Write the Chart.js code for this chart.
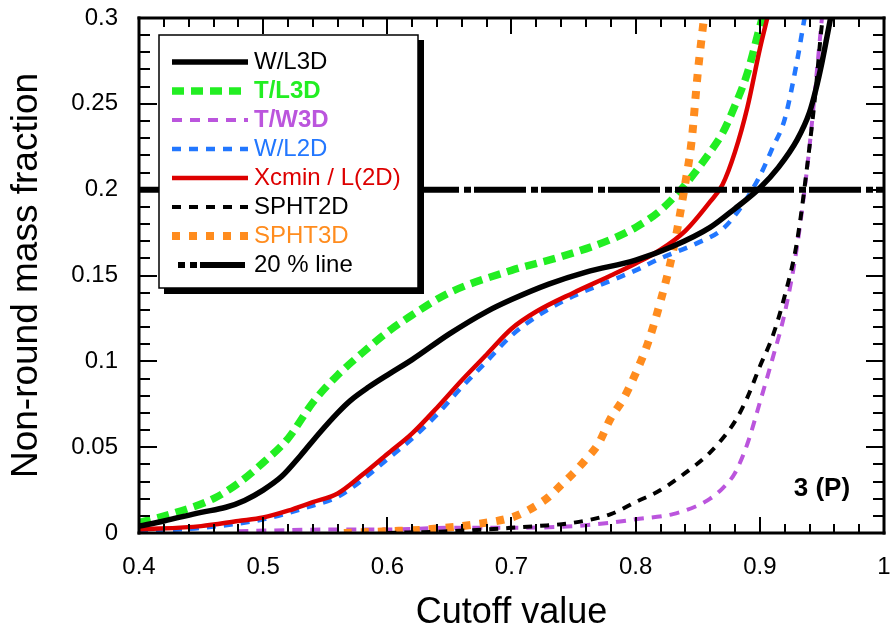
<!DOCTYPE html>
<html lang="en">
<head>
  <meta charset="UTF-8" />
  <title>Non-round mass fraction vs cutoff value</title>
  <style>
    body {
      margin: 0;
      background-color: #fff;
    }
    #wrap {
      width: 891px;
      height: 635px;
    }
  </style>
</head>
<body>
  <div id="wrap"><canvas id="cutoffChart" width="891" height="635"></canvas></div>

  <script src="https://cdn.jsdelivr.net/npm/chart.js"></script>
  <script>
    // cutoff value (x) and non-round mass fraction (y) for every curve
    const wl3dX = [0.4, 0.42, 0.45, 0.47, 0.485, 0.5, 0.515, 0.53, 0.545, 0.56, 0.57, 0.585, 0.6, 0.62, 0.65, 0.68, 0.7, 0.73, 0.76, 0.8, 0.83, 0.86, 0.88, 0.9, 0.915, 0.93, 0.94, 0.945, 0.95, 0.957];
    const wl3dY = [0.004, 0.007, 0.012, 0.015, 0.019, 0.025, 0.033, 0.045, 0.058, 0.070, 0.077, 0.085, 0.092, 0.101, 0.116, 0.129, 0.136, 0.145, 0.152, 0.159, 0.167, 0.178, 0.189, 0.201, 0.213, 0.229, 0.245, 0.258, 0.274, 0.3];

    const tl3dX = [0.4, 0.43, 0.46, 0.48, 0.5, 0.52, 0.54, 0.56, 0.58, 0.6, 0.62, 0.65, 0.7, 0.74, 0.78, 0.8, 0.82, 0.84, 0.86, 0.87, 0.88, 0.89, 0.9, 0.902];
    const tl3dY = [0.006, 0.012, 0.02, 0.029, 0.041, 0.055, 0.076, 0.092, 0.105, 0.117, 0.127, 0.140, 0.153, 0.161, 0.171, 0.178, 0.188, 0.203, 0.222, 0.233, 0.249, 0.268, 0.295, 0.3];

    const tw3dX = [0.48, 0.55, 0.6, 0.65, 0.7, 0.75, 0.78, 0.8, 0.83, 0.85, 0.86, 0.87, 0.88, 0.89, 0.9, 0.91, 0.92, 0.93, 0.94, 0.945, 0.95];
    const tw3dY = [0.001, 0.002, 0.002, 0.003, 0.003, 0.004, 0.006, 0.008, 0.011, 0.016, 0.02, 0.026, 0.035, 0.052, 0.076, 0.101, 0.128, 0.167, 0.225, 0.262, 0.3];

    const wl2dX = [0.4, 0.45, 0.5, 0.54, 0.56, 0.58, 0.6, 0.62, 0.64, 0.66, 0.68, 0.7, 0.72, 0.75, 0.78, 0.8, 0.82, 0.85, 0.87, 0.885, 0.9, 0.91, 0.92, 0.93, 0.936];
    const wl2dY = [0.001, 0.003, 0.008, 0.016, 0.021, 0.031, 0.043, 0.055, 0.069, 0.085, 0.100, 0.115, 0.126, 0.138, 0.147, 0.153, 0.160, 0.169, 0.177, 0.19, 0.208, 0.224, 0.241, 0.275, 0.3];

    const xcminX = [0.4, 0.45, 0.48, 0.5, 0.52, 0.54, 0.56, 0.58, 0.6, 0.62, 0.64, 0.66, 0.68, 0.7, 0.72, 0.75, 0.78, 0.8, 0.82, 0.84, 0.86, 0.87, 0.88, 0.89, 0.9, 0.906];
    const xcminY = [0.002, 0.004, 0.007, 0.009, 0.013, 0.018, 0.023, 0.034, 0.046, 0.058, 0.073, 0.089, 0.104, 0.119, 0.129, 0.140, 0.150, 0.157, 0.165, 0.176, 0.193, 0.203, 0.222, 0.248, 0.282, 0.3];

    const spht2dX = [0.6, 0.65, 0.7, 0.72, 0.75, 0.78, 0.8, 0.82, 0.84, 0.86, 0.88, 0.89, 0.9, 0.91, 0.92, 0.93, 0.94, 0.945, 0.95, 0.951];
    const spht2dY = [0.0, 0.001, 0.003, 0.004, 0.006, 0.011, 0.018, 0.025, 0.035, 0.047, 0.065, 0.079, 0.097, 0.114, 0.138, 0.170, 0.225, 0.258, 0.296, 0.3];

    const spht3dX = [0.565, 0.6, 0.63, 0.67, 0.7, 0.71, 0.72, 0.73, 0.74, 0.75, 0.76, 0.77, 0.78, 0.79, 0.8, 0.81, 0.82, 0.83, 0.84, 0.845, 0.85, 0.855];
    const spht3dY = [0.0, 0.001, 0.002, 0.005, 0.009, 0.012, 0.016, 0.021, 0.028, 0.035, 0.043, 0.052, 0.067, 0.078, 0.093, 0.111, 0.135, 0.164, 0.204, 0.228, 0.268, 0.3];

    const lineX = [0.4, 1.0];
    const lineY = [0.2, 0.2];

    const xTicks = [0.4, 0.5, 0.6, 0.7, 0.8, 0.9, 1.0];
    const xTickLabels = ['0.4', '0.5', '0.6', '0.7', '0.8', '0.9', '1'];
    const yTicks = [0, 0.05, 0.1, 0.15, 0.2, 0.25, 0.3];
    const yTickLabels = ['0', '0.05', '0.1', '0.15', '0.2', '0.25', '0.3'];

    const FONT = '"Liberation Sans", Arial, Helvetica, sans-serif';

    // legend order; "order" controls what is painted on top (lower = on top)
    const series = [
      { label: 'W/L3D', xs: wl3dX, ys: wl3dY, color: '#000000', width: 5.5, dash: [], bold: false, order: 1 },
      { label: 'T/L3D', xs: tl3dX, ys: tl3dY, color: '#22ee22', width: 7.5, dash: [12, 7], bold: true, order: 7 },
      { label: 'T/W3D', xs: tw3dX, ys: tw3dY, color: '#bb55dd', width: 4, dash: [10, 8], bold: true, order: 5 },
      { label: 'W/L2D', xs: wl2dX, ys: wl2dY, color: '#2277ff', width: 4.5, dash: [9, 8], bold: false, order: 6 },
      { label: 'Xcmin / L(2D)', xs: xcminX, ys: xcminY, color: '#dd0000', width: 4.5, dash: [], bold: false, order: 2 },
      { label: 'SPHT2D', xs: spht2dX, ys: spht2dY, color: '#000000', width: 4, dash: [9, 8], bold: false, order: 3 },
      { label: 'SPHT3D', xs: spht3dX, ys: spht3dY, color: '#ff8c1e', width: 8, dash: [8, 9], bold: false, order: 4 },
      { label: '20 % line', xs: lineX, ys: lineY, color: '#000000', width: 6, dash: [52, 5, 7, 3], bold: false, order: 0, legendOffset: 45 }
    ];

    function segment(ctx, x1, y1, x2, y2) {
      ctx.beginPath();
      ctx.moveTo(x1, y1);
      ctx.lineTo(x2, y2);
      ctx.stroke();
    }

    // frame with inward ticks, the panel tag and a boxed legend
    const overlay = {
      id: 'overlay',
      afterDraw(chart) {
        const c = chart.ctx;
        const area = chart.chartArea;
        const sx = chart.scales.x;
        const sy = chart.scales.y;
        const left = area.left, right = area.right, top = area.top, bottom = area.bottom;

        c.save();
        c.setLineDash([]);
        c.fillStyle = '#000000';
        // x ticks every 0.02, long ones every 0.1
        for (let i = 0; i <= 30; i++) {
          const px = Math.round(sx.getPixelForValue(0.4 + i * 0.02));
          const len = (i % 5 === 0) ? 16 : 9;
          c.fillRect(px - 1, bottom - len, 2, len);
          c.fillRect(px - 1, top, 2, len);
        }
        // y ticks every 0.01, long ones every 0.05
        for (let j = 0; j <= 30; j++) {
          const py = Math.round(sy.getPixelForValue(j * 0.01));
          const len = (j % 5 === 0) ? 18 : 11;
          c.fillRect(left, py - 1, len, 2);
          c.fillRect(right - len, py - 1, len, 2);
        }
        c.fillRect(left - 1.5, top - 1.5, right - left + 3, 3);
        c.fillRect(left - 1.5, bottom - 1.5, right - left + 3, 3);
        c.fillRect(left - 1.5, top - 1.5, 3, bottom - top + 3);
        c.fillRect(right - 1.5, top - 1.5, 3, bottom - top + 3);

        c.font = 'bold 26px ' + FONT;
        c.textAlign = 'center';
        c.textBaseline = 'middle';
        c.fillText('3 (P)', sx.getPixelForValue(0.95), sy.getPixelForValue(0.026));

        // legend box with drop shadow
        const bx = 159, by = 35, bw = 259, bh = 253;
        c.fillStyle = '#000000';
        c.fillRect(bx + 5, by + 5, bw + 1, bh + 1);
        c.fillStyle = '#ffffff';
        c.fillRect(bx, by, bw, bh);
        c.lineWidth = 1.5;
        c.strokeStyle = '#000000';
        c.strokeRect(bx, by, bw, bh);

        series.forEach((s, i) => {
          const ry = 62 + i * 29;
          c.strokeStyle = s.color;
          c.lineWidth = s.width;
          c.setLineDash(s.dash);
          c.lineDashOffset = s.legendOffset || 0;
          segment(c, s.legendOffset ? 178 : 172, ry, s.legendOffset ? 245 : 248, ry);
          c.setLineDash([]);
          c.lineDashOffset = 0;
          c.fillStyle = s.color;
          c.font = (s.bold ? 'bold ' : '') + '24px ' + FONT;
          c.textAlign = 'left';
          c.textBaseline = 'middle';
          c.fillText(s.label, 254, ry);
        });
        c.restore();
      }
    };

    const ctx = document.getElementById('cutoffChart').getContext('2d');
    const cutoffChart = new Chart(ctx, {
      type: 'line',
      data: {
        datasets: series.map(s => ({
          label: s.label,
          data: s.xs.map((v, i) => ({ x: v, y: s.ys[i] })),
          borderColor: s.color,
          backgroundColor: s.color,
          borderWidth: s.width,
          borderDash: s.dash,
          order: s.order,
          fill: false,
          pointRadius: 0,
          cubicInterpolationMode: 'monotone'
        }))
      },
      options: {
        responsive: false,
        animation: false,
        devicePixelRatio: 1,
        layout: { padding: { left: 0, top: 18, right: 7, bottom: 0 } },
        plugins: {
          legend: { display: false },
          tooltip: { enabled: false }
        },
        scales: {
          x: {
            type: 'linear',
            min: 0.4,
            max: 1.0,
            afterBuildTicks: s => { s.ticks = xTicks.map(v => ({ value: v })); },
            afterFit: s => { s.height = 102; s.paddingLeft = 0; s.paddingRight = 0; },
            grid: { display: false, drawTicks: false },
            border: { display: false },
            ticks: {
              padding: 20,
              color: '#000',
              maxRotation: 0,
              autoSkip: false,
              font: { family: FONT, size: 24 },
              callback: (v, i) => xTickLabels[i]
            },
            title: {
              display: true,
              text: 'Cutoff value',
              color: '#000',
              font: { family: FONT, size: 36 },
              padding: { top: 0, bottom: 0 }
            }
          },
          y: {
            type: 'linear',
            min: 0,
            max: 0.3,
            afterBuildTicks: s => { s.ticks = yTicks.map(v => ({ value: v })); },
            afterFit: s => { s.width = 139; s.paddingTop = 0; s.paddingBottom = 0; },
            grid: { display: false, drawTicks: false },
            border: { display: false },
            ticks: {
              padding: 21,
              color: '#000',
              font: { family: FONT, size: 24 },
              callback: (v, i) => yTickLabels[i]
            },
            title: {
              display: true,
              text: 'Non-round mass fraction',
              color: '#000',
              font: { family: FONT, size: 37 },
              padding: { top: 5, bottom: 0 }
            }
          }
        }
      },
      plugins: [overlay]
    });
  </script>
</body>
</html>
